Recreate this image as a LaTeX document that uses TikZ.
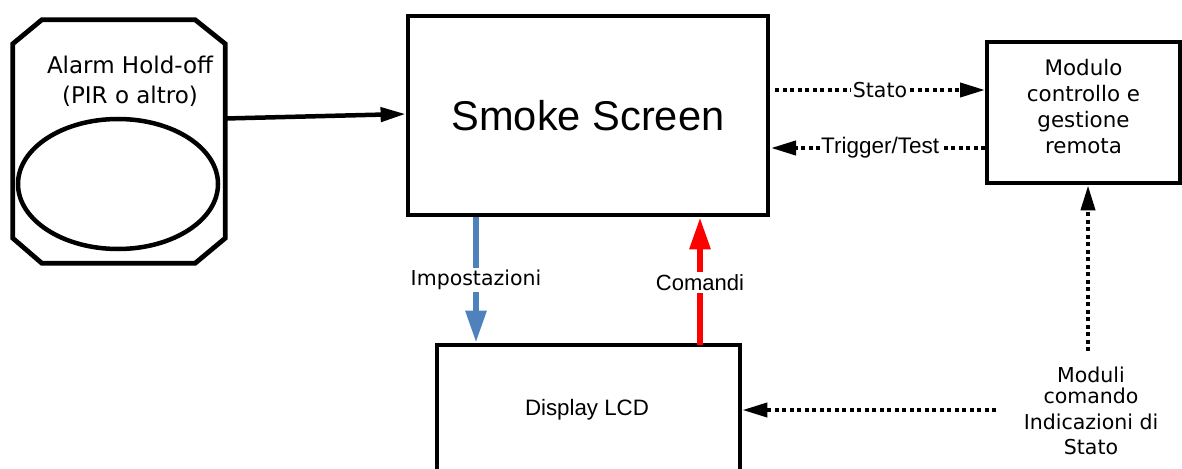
\documentclass[tikz,border=0pt]{standalone}
\usepackage{fontspec}
\setmainfont{Liberation Sans}
\newfontfamily\dv{DejaVu Sans}
\usetikzlibrary{arrows.meta,shapes.geometric}
\begin{document}
\begin{tikzpicture}[x=1pt,y=-1pt,
  box/.style={draw,line width=4.8pt,inner sep=0pt},
  blk/.style={line width=4.5pt,-{Triangle[length=25pt,width=14pt]}},
  dotline/.style={line width=4pt,dash pattern=on 4pt off 3.5pt,-{Triangle[length=25pt,width=14pt]}},
  lbl/.style={fill=white,inner sep=2pt},
  dvtext/.style={font=\dv\fontsize{20.5}{25}\selectfont}]
\useasboundingbox (0,0) rectangle (1182,468);
\clip (0,0) rectangle (1182,468);
% Alarm hold-off octagon
\node[minimum width=212pt,minimum height=243pt,inner sep=0pt] (alarm) at (119,141.5) {};
\draw[line width=4.8pt,line join=miter]
  ([xshift=29pt]alarm.north west) -- ([xshift=-30pt]alarm.north east)
  -- ([yshift=-24pt]alarm.north east) -- ([yshift=25pt]alarm.south east)
  -- ([xshift=-30pt]alarm.south east) -- ([xshift=29pt]alarm.south west)
  -- ([yshift=25pt]alarm.south west) -- ([yshift=-24pt]alarm.north west) -- cycle;
\node[draw,ellipse,line width=4.5pt,minimum width=200pt,minimum height=130pt,inner sep=0pt] (lens) at (118,184) {};
\node[font=\dv\fontsize{23}{30}\selectfont,align=center] (alarmtxt) at (130,81) {Alarm Hold-off\\(PIR o altro)};
% boxes
\node[box,minimum width=360pt,minimum height=199pt,font=\fontsize{41.6}{45}\selectfont] (smoke) at (588,115.5) {Smoke Screen};
\node[box,minimum width=193pt,minimum height=141pt] (modulo) at (1083.5,112.5) {};
\node[font=\dv\fontsize{21.4}{26}\selectfont,align=center] (modtxt) at (1083.5,106.5) {Modulo\\controllo e\\gestione\\remota};
\node[box,minimum width=303pt,minimum height=200pt] (display) at (588.5,445) {};
\node[font=\fontsize{22.3}{25}\selectfont] (displaytxt) at (587,410) {Display LCD};
% moduli comando text
\node[dvtext,align=center,anchor=north] (moduli) at (1091,363)
  {Moduli\\[-3.5pt]comando\\[1pt]Indicazioni di\\Stato};
% connectors
\draw[blk] ([yshift=23pt]alarm.east) -- ([yshift=1.5pt]smoke.west);
\coordinate (s1) at (775,90);
\coordinate (s2) at (985,90);
\draw[dotline] (s1) -- node[lbl,dvtext] (statolbl) {Stato} (s2);
\coordinate (t1) at (985,148);
\coordinate (t2) at (771,148);
\draw[dotline] (t1) -- node[lbl,font=\fontsize{22.5}{25}\selectfont,pos=0.49,inner sep=1pt] (triglbl) {Trigger/Test} (t2);
\coordinate (b1) at (476,217);
\draw[line width=6pt,color={rgb,255:red,79;green,129;blue,189},-{Triangle[length=32pt,width=20pt]}]
  (b1) -- node[lbl,dvtext,text=black,pos=0.5] (implbl) {Impostazioni} (b1 |- display.north);
\coordinate (r1) at (700,345);
\draw[line width=6pt,color=red,-{Triangle[length=32pt,width=20pt]}]
  (r1) -- node[lbl,font=\fontsize{22}{25}\selectfont,text=black,pos=0.49] (comlbl) {Comandi} (r1 |- smoke.south);
\coordinate (v1) at (1088,351);
\draw[dotline] (v1) -- (v1 |- modulo.south);
\coordinate (h1) at (996,410);
\draw[dotline] (h1) -- (display.east |- h1);
\end{tikzpicture}
\end{document}
